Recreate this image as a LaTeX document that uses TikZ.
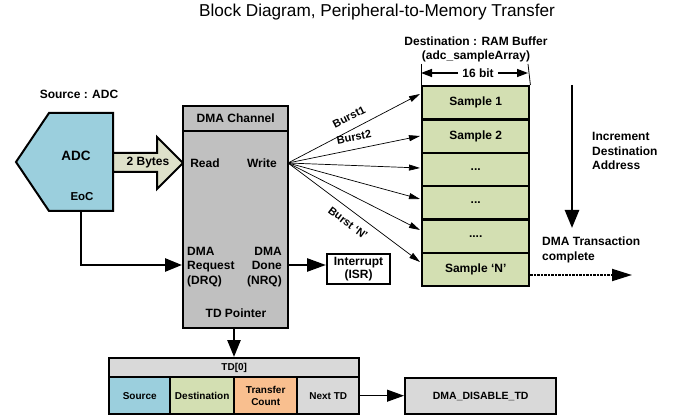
\documentclass[tikz,border=0pt]{standalone}
\usepackage{fontspec}
\setmainfont{Liberation Sans}
\usetikzlibrary{arrows.meta,calc}
\definecolor{adcblue}{HTML}{9BCFDD}
\definecolor{samplegreen}{HTML}{D3DFB2}
\definecolor{bytesfill}{HTML}{DEE1CA}
\definecolor{dmagray}{HTML}{C0C0C0}
\definecolor{lgray}{HTML}{D9D9D9}
\definecolor{torange}{HTML}{F9BF8F}
\tikzset{
  fs/.style={font=\fontsize{#1}{14.5}\selectfont\bfseries},
  lbl/.style={fs=12, inner sep=0pt, align=center},
  thickbox/.style={draw, line width=2.4pt, inner sep=0pt, anchor=north west, align=center},
  samplebox/.style={thickbox, fill=samplegreen, minimum width=107pt, minimum height=33.33pt, fs=12},
  tdcell/.style={thickbox, minimum height=37pt, font=\fontsize{10}{12.5}\selectfont\bfseries},
  bigtip/.style={-{Triangle[length=17pt,width=13pt]}},
  fanarrow/.style={line width=0.7pt, -{Triangle[length=11pt,width=6pt]}},
}
\begin{document}
\begin{tikzpicture}[x=1pt,y=-1pt]
\useasboundingbox (0,0) rectangle (684,419);

% title
\node[font=\fontsize{17.2}{20}\selectfont, inner sep=0pt] (title) at (377,12) {Block Diagram, Peripheral-to-Memory Transfer};

% source ADC
\node[lbl] (srclbl) at (79,94) {Source : ADC};
\draw[line width=2pt, fill=adcblue] (16,162) -- (49,113) -- (113,113) -- (113,211) -- (49,211) -- cycle;
\node[lbl, fs=13.5] (adc) at (76,156) {ADC};
\node[lbl, fs=11.5] (eoc) at (82,197) {EoC};
\coordinate (adcbot) at (81,211);

% 2 Bytes block arrow
\draw[line width=2pt, fill=bytesfill] (113,153) -- (157,153) -- (157,137) -- (183,163) -- (157,189) -- (157,172) -- (113,172) -- cycle;
\node[lbl] (bytes) at (148,163) {2 Bytes};

% DMA channel
\node[thickbox, fill=dmagray, minimum width=105pt, minimum height=222pt] (dma) at (182,105) {};
\node[thickbox, fill=dmagray, minimum width=105pt, minimum height=25pt, fs=12] (dmahead) at (182,105) {DMA Channel};
\node[lbl] (read) at (205,163) {Read};
\node[lbl] (write) at (262,163) {Write};
\node[lbl, align=left, anchor=west] (drq) at (187,267) {DMA\\Request\\(DRQ)};
\node[lbl, align=right, anchor=east] (nrq) at (282,267) {DMA\\Done\\(NRQ)};
\node[lbl] (tdptr) at (236,313) {TD Pointer};
\coordinate (fan) at (288,163);

% EoC to DRQ
\draw[line width=2.6pt, bigtip] (adcbot) |- (dma.west |- 0,265);

% interrupt
\node[thickbox, line width=2pt, minimum width=63pt, minimum height=30pt, font=\fontsize{12}{13}\selectfont\bfseries] (isr) at (326,253) {Interrupt\\(ISR)};
\draw[line width=2.6pt, -{Triangle[length=19pt,width=13pt]}] (dma.east |- 0,265) -- (isr.west |- 0,265);

% RAM buffer
\node[lbl, font=\fontsize{12}{14}\selectfont\bfseries] (destlbl) at (476,49) {Destination : RAM Buffer\\(adc\_sampleArray)};
\node[samplebox] (s1) at (421,85) {Sample 1};
\node[samplebox] (s2) at (421,118.33) {Sample 2};
\node[samplebox] (s3) at (421,151.67) {...};
\node[samplebox] (s4) at (421,185) {...};
\node[samplebox] (s5) at (421,218.33) {....};
\node[samplebox] (s6) at (421,251.67) {Sample ‘N’};

% 16 bit dimension
\coordinate (dl) at (421,73);
\coordinate (dr) at (528,73);
\draw[line width=0.8pt] (421,64) -- (s1.north west);
\draw[line width=0.8pt] (528,64) -- (s1.north east);
\node[lbl] (bits) at (478,73) {16 bit};
\draw[line width=1.4pt, -{Triangle[length=11pt,width=8pt]}] (bits.west) ++(-4,0) -- (dl);
\draw[line width=1.4pt, -{Triangle[length=11pt,width=8pt]}] (bits.east) ++(4,0) -- (dr);

% burst arrows
\coordinate (t1) at (420,94);
\coordinate (t2) at (420,136);
\coordinate (t3) at (420,168);
\coordinate (t4) at (420,199);
\coordinate (t5) at (420,230);
\coordinate (t6) at (420,262);
\foreach \t in {t1,t2,t3,t4,t5,t6} \draw[fanarrow] (fan) -- (\t);
\node[lbl, fs=11, rotate=27] (b1) at (349,117) {Burst1};
\node[lbl, fs=11, rotate=11] (b2) at (354,137) {Burst2};
\node[lbl, fs=11, rotate=-37] (bn) at (348,223) {Burst ‘N’};

% increment arrow
\coordinate (inctop) at (572,85);
\coordinate (incbot) at (572,228);
\draw[line width=2.6pt, -{Triangle[length=18pt,width=14pt]}] (inctop) -- (incbot);
\node[lbl, align=left, anchor=west] (inc) at (592,151) {Increment\\Destination\\Address};

% transaction complete
\node[lbl, align=left, anchor=west, font=\fontsize{12}{15}\selectfont\bfseries] (done) at (542,250) {DMA Transaction\\complete};
\coordinate (dotend) at (632,275);
\draw[line width=1.8pt, dash pattern=on 2.2pt off 1.3pt, -{Triangle[length=20pt,width=12pt]}] (s6.east |- 0,275) -- (dotend);

% TD pointer arrow
\node[thickbox, fill=lgray, minimum width=250pt, minimum height=19pt, font=\fontsize{10}{12}\selectfont\bfseries] (tdhead) at (108,357) {TD[0]};
\draw[line width=2.6pt, -{Triangle[length=17pt,width=13pt]}] (dma.south -| 234,0) -- (tdhead.north -| 234,0);

% TD cells
\node[tdcell, fill=adcblue, minimum width=61pt] (csrc) at (108,376) {Source};
\node[tdcell, fill=samplegreen, minimum width=64pt] (cdst) at (169,376) {Destination};
\node[tdcell, fill=torange, minimum width=63pt] (ccnt) at (233,376) {Transfer\\Count};
\node[tdcell, fill=lgray, minimum width=62pt] (cnext) at (296,376) {Next TD};

% DMA_DISABLE_TD
\node[thickbox, fill=lgray, minimum width=151pt, minimum height=36pt, font=\fontsize{10.5}{12}\selectfont\bfseries] (dis) at (404,377) {DMA\_DISABLE\_TD};
\draw[line width=1pt, -{Triangle[length=17pt,width=12pt]}] (cnext.east) -- (dis.west |- cnext.east);
\end{tikzpicture}
\end{document}
